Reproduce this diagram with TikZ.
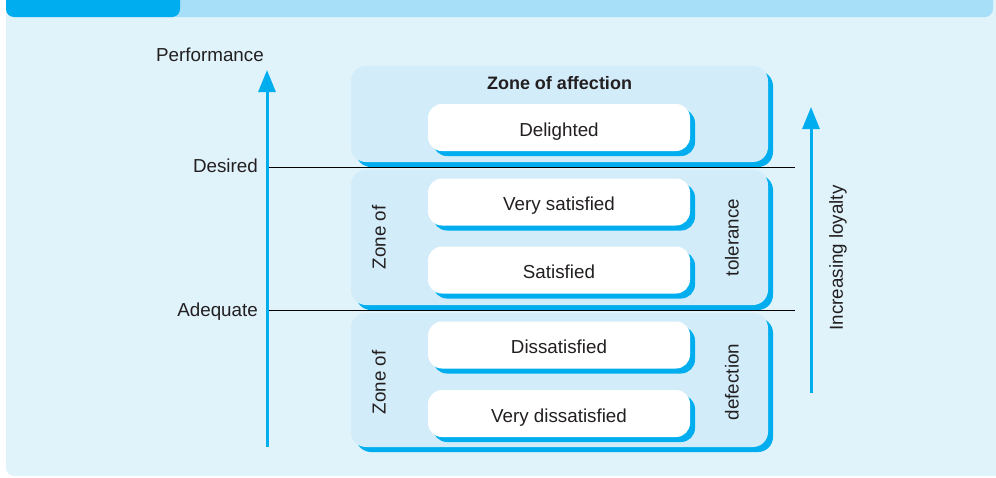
\documentclass[tikz,border=0pt]{standalone}
\usepackage{fontspec}
\setmainfont{Liberation Sans}
\usetikzlibrary{arrows.meta,shadows}
\definecolor{panel}{HTML}{E0F3FB}
\definecolor{bar}{HTML}{A8DFF8}
\definecolor{cyanb}{HTML}{00AEEF}
\definecolor{zonef}{HTML}{D2ECF9}
\definecolor{txt}{HTML}{231F20}
\newcommand{\dfont}{\fontsize{18.8}{21}\selectfont}
\tikzset{
  zonebox/.style={draw=none, fill=zonef, rounded corners=15pt, inner sep=0pt,
    drop shadow={shadow xshift=5pt, shadow yshift=-5pt, fill=cyanb, opacity=1}},
  levelbox/.style={draw=none, fill=white, rounded corners=14pt, inner sep=0pt,
    minimum width=262pt, minimum height=47pt, text=txt, font=\dfont,
    text height=17pt, text depth=0pt,
    drop shadow={shadow xshift=5pt, shadow yshift=-5pt, fill=cyanb, opacity=1}},
  lbl/.style={text=txt, font=\dfont, inner sep=0pt},
  axis/.style={cyanb, line width=3pt, -{Triangle[width=17pt,length=22pt]}},
  level/.style={black, line width=0.9pt}
}
\begin{document}
\begin{tikzpicture}[x=1pt,y=-1pt]
\useasboundingbox (0,0) rectangle (996,477);
% background
\fill[panel, rounded corners=8pt] (6,-20) rectangle (1010,476);
\fill[bar, rounded corners=8pt] (6,-20) rectangle (993,17);
\fill[cyanb, rounded corners=8pt] (6,-20) rectangle (180,17);
% zones
\node[zonebox, minimum width=417pt, minimum height=96pt] (aff) at (559.5,114) {};
\node[zonebox, minimum width=417pt, minimum height=135pt] (tol) at (559.5,237.5) {};
\node[zonebox, minimum width=417pt, minimum height=134pt] (def) at (559.5,380) {};
% level lines
\coordinate (dl) at (268,167);
\coordinate (dr) at (795,167);
\coordinate (al) at (268,310);
\coordinate (ar) at (795,310);
\draw[level] (dl) -- (dr);
\draw[level] (al) -- (ar);
% inner boxes
\node[levelbox] (del) at (559,127.5) {Delighted};
\node[levelbox] (vs) at (559,202) {Very satisfied};
\node[levelbox] (sat) at (559,270) {Satisfied};
\node[levelbox] (dis) at (559,345) {Dissatisfied};
\node[levelbox] (vdis) at (559,413.5) {Very dissatisfied};
% zone labels
\node[lbl, font=\fontsize{18}{20}\selectfont\bfseries] (affl) at (559.5,83.5) {Zone of affection};
\node[lbl, rotate=90] (tz) at (379,237.5) {Zone of};
\node[lbl, rotate=90] (tt) at (732,237.5) {tolerance};
\node[lbl, rotate=90] (dz) at (379,382.5) {Zone of};
\node[lbl, rotate=90] (dd) at (732,382) {defection};
% axis
\coordinate (pb) at (267,447);
\coordinate (pt) at (267,70);
\draw[axis] (pb) -- (pt);
\node[lbl] (perf) at (210,55) {Performance};
\node[lbl, anchor=east] (des) at (258,166) {Desired};
\node[lbl, anchor=east] (adq) at (258,312) {Adequate};
% loyalty
\coordinate (lb) at (811,393);
\coordinate (lt) at (811,107);
\draw[axis] (lb) -- (lt);
\node[lbl, rotate=90] (loy) at (838,258) {Increasing loyalty};
\end{tikzpicture}
\end{document}
